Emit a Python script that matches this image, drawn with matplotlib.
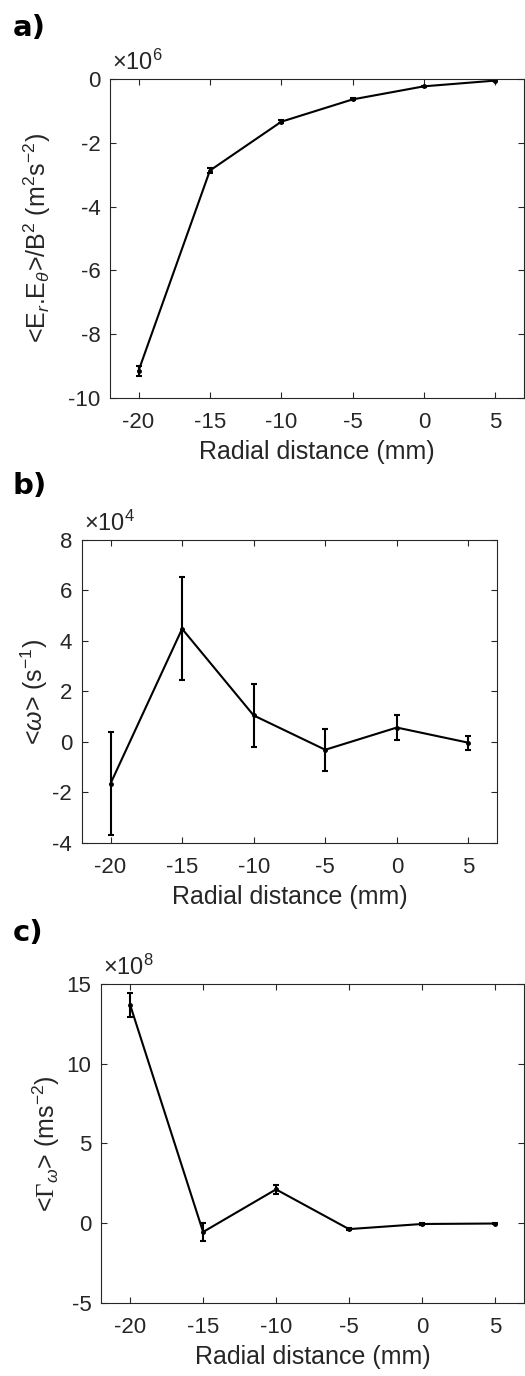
import numpy as np
import matplotlib
matplotlib.use("Agg")
import matplotlib.pyplot as plt

plt.rcParams["font.family"] = ["Liberation Sans", "DejaVu Sans"]
plt.rcParams["axes.unicode_minus"] = False
plt.rcParams["mathtext.fontset"] = "custom"
plt.rcParams["mathtext.rm"] = "Liberation Sans"
plt.rcParams["mathtext.it"] = "Liberation Sans:italic"
plt.rcParams["mathtext.cal"] = "Liberation Serif"

GREY = "#262626"

# ── data (values in units of the panel multiplier) ──────────────────────
radial = [-20, -15, -10, -5, 0, 5]

ee_vals = [-9.15, -2.87, -1.34, -0.64, -0.23, -0.05]      # x1e6
ee_err  = [0.15, 0.07, 0.05, 0.03, 0.02, 0.02]

om_vals = [-1.65, 4.48, 1.05, -0.31, 0.57, -0.03]         # x1e4
om_err  = [2.05, 2.04, 1.25, 0.84, 0.48, 0.27]

gm_vals = [13.68, -0.55, 2.12, -0.37, -0.05, -0.02]       # x1e8
gm_err  = [0.75, 0.58, 0.30, 0.06, 0.04, 0.03]

panels = [
    dict(tag="a)", y=ee_vals, e=ee_err, exp=6, ylim=(-10, 0),
         yticks=[-10, -8, -6, -4, -2, 0],
         ylabel=r"<E$_r$.E$_\theta$>/B$^2$ (m$^2$s$^{-2}$)", ylx=-0.138,
         pos=[0.2095, 0.7108, 0.7885, 0.2318], tagy=0.9797),
    dict(tag="b)", y=om_vals, e=om_err, exp=4, ylim=(-4, 8),
         yticks=[-4, -2, 0, 2, 4, 6, 8],
         ylabel=r"<$\omega$> (s$^{-1}$)", ylx=-0.077,
         pos=[0.156, 0.3874, 0.7907, 0.2202], tagy=0.6468),
    dict(tag="c)", y=gm_vals, e=gm_err, exp=8, ylim=(-5, 15),
         yticks=[-5, 0, 5, 10, 15],
         ylabel=r"<$\mathcal{\Gamma}_\omega$> (ms$^{-2}$)", ylx=-0.093,
         pos=[0.1924, 0.0531, 0.8056, 0.2318], tagy=0.322),
]

fig = plt.figure(figsize=(5.25, 13.76), dpi=100)

for p in panels:
    ax = fig.add_axes(p["pos"])
    ax.errorbar(radial, p["y"], yerr=p["e"], color="black", lw=1.5,
                marker=".", ms=5, capsize=2.5, elinewidth=1.5, capthick=1.5)
    ax.set_xlim(-22, 7)
    ax.set_ylim(*p["ylim"])
    ax.set_xticks(radial)
    ax.set_yticks(p["yticks"])
    ax.tick_params(direction="in", top=True, right=True, length=4,
                   width=0.8, labelsize=16, colors=GREY)
    ax.tick_params(axis="x", pad=10)
    ax.tick_params(axis="y", pad=7)
    for s in ax.spines.values():
        s.set_color(GREY)
        s.set_linewidth(0.8)
    ax.set_xlabel("Radial distance (mm)", fontsize=18, color=GREY, labelpad=5)
    ax.set_ylabel(p["ylabel"], fontsize=18, color=GREY)
    ax.yaxis.set_label_coords(p["ylx"], 0.5)
    ax.text(0.005, 1.012, r"$\times$10$^{%d}$" % p["exp"], transform=ax.transAxes,
            fontsize=17, color=GREY, ha="left", va="bottom")
    fig.text(0.024, p["tagy"], p["tag"], fontsize=21, fontweight="bold",
             family="DejaVu Sans", ha="left", va="center")

fig.savefig("out.png", dpi=100)
